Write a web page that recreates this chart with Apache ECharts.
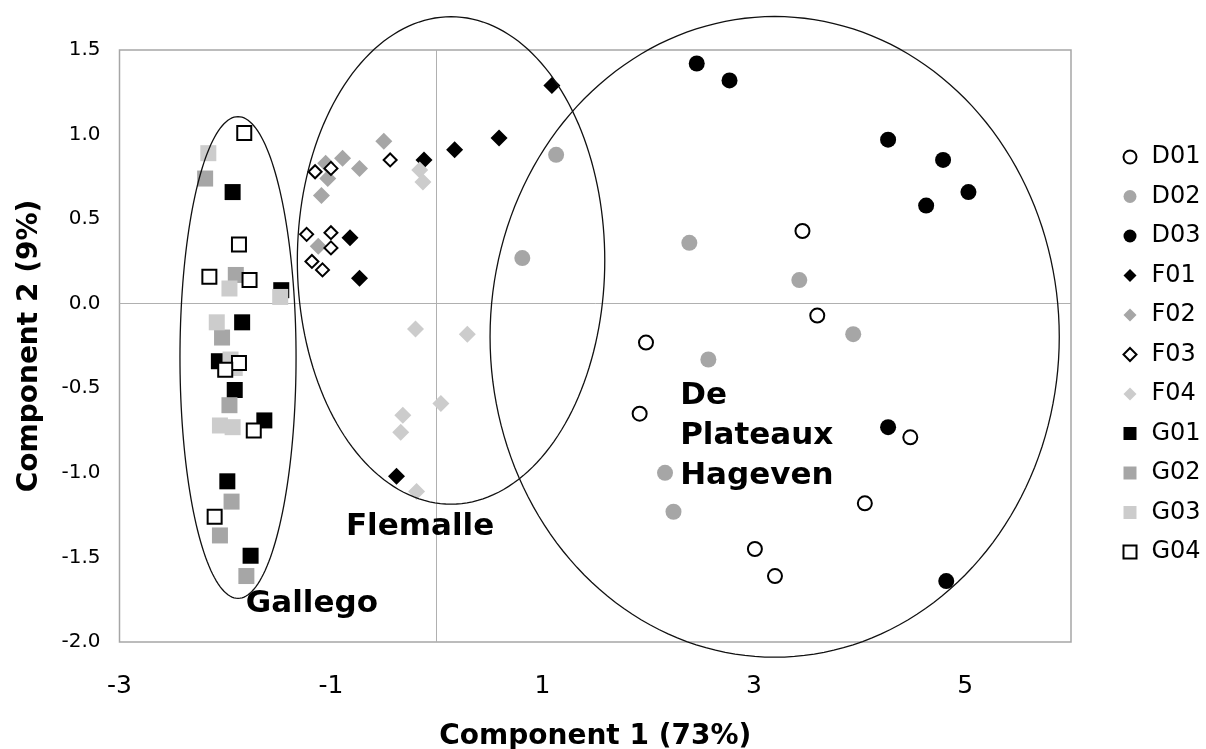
<!DOCTYPE html>
<html>
<head>
<meta charset="utf-8">
<script src="https://cdn.jsdelivr.net/npm/echarts@6/dist/echarts.min.js"></script>
<style>
  html, body { margin: 0; padding: 0; background: #fff; }
  #chart { width: 1206px; height: 749px; }
</style>
</head>
<body>
<div id="chart"></div>
<script>
// point groups, [component 1, component 2]
const D01 = [[3.46,0.43],[3.60,-0.07],[1.98,-0.23],[1.92,-0.65],[4.48,-0.79],[4.05,-1.18],[3.01,-1.45],[3.20,-1.61]];
const D02 = [[1.13,0.88],[0.81,0.27],[2.39,0.36],[3.43,0.14],[3.94,-0.18],[2.57,-0.33],[2.16,-1.00],[2.24,-1.23]];
const D03 = [[2.46,1.42],[2.77,1.32],[4.27,0.97],[4.79,0.85],[4.63,0.58],[5.03,0.66],[4.27,-0.73],[4.82,-1.64]];
const F01 = [[1.09,1.29],[0.59,0.98],[0.17,0.91],[-0.12,0.85],[-0.82,0.39],[-0.73,0.15],[-0.38,-1.02]];
const F02 = [[-0.50,0.96],[-1.05,0.83],[-0.89,0.86],[-0.73,0.80],[-1.03,0.74],[-1.09,0.64],[-1.12,0.34]];
const F03 = [[-0.44,0.85],[-1.15,0.78],[-1.00,0.80],[-1.23,0.41],[-1.00,0.42],[-1.00,0.33],[-1.18,0.25],[-1.08,0.20]];
const F04 = [[-0.16,0.79],[-0.13,0.72],[-0.20,-0.15],[0.29,-0.18],[0.04,-0.59],[-0.32,-0.66],[-0.34,-0.76],[-0.19,-1.11]];
const G01 = [[-1.93,0.66],[-1.47,0.08],[-1.84,-0.11],[-2.06,-0.34],[-1.91,-0.51],[-1.63,-0.69],[-1.98,-1.05],[-1.76,-1.49]];
const G02 = [[-2.19,0.74],[-1.90,0.17],[-2.03,-0.20],[-1.96,-0.60],[-1.94,-1.17],[-2.05,-1.37],[-1.80,-1.61]];
const G03 = [[-2.16,0.89],[-1.96,0.09],[-1.48,0.04],[-2.08,-0.11],[-1.95,-0.33],[-1.91,-0.38],[-2.05,-0.72],[-1.93,-0.73]];
const G04 = [[-1.82,1.01],[-1.87,0.35],[-2.15,0.16],[-1.77,0.14],[-1.87,-0.35],[-2.00,-0.39],[-1.73,-0.75],[-2.10,-1.26]];

const seriesNames = ['D01','D02','D03','F01','F02','F03','F04','G01','G02','G03','G04'];
const seriesData = [D01, D02, D03, F01, F02, F03, F04, G01, G02, G03, G04];

// group ellipses: [centre x, centre y, radius x, radius y]
const ellipses = [[-1.879,-0.318,0.549,1.424],[0.136,0.256,1.454,1.441],[3.197,-0.196,2.692,1.894]];
// group labels: [x, y, text]
const groupLabels = [[-1.18,-1.776,'Gallego'],[-0.157,-1.319,'Flemalle'],[2.303,-0.783,'De\nPlateaux\nHageven']];

const xTicks = { min: -3, max: 6, interval: 2 };
const yTicks = { min: -2, max: 1.5, interval: 0.5 };

const BLACK = '#000000', GREY = '#a6a6a6', LIGHT = '#cccccc';
// symbol, fill, open?
const styles = {
  D01: ['circle', '#fff', true],
  D02: ['circle', GREY, false],
  D03: ['circle', BLACK, false],
  F01: ['diamond', BLACK, false],
  F02: ['diamond', GREY, false],
  F03: ['diamond', '#fff', true],
  F04: ['diamond', LIGHT, false],
  G01: ['rect', BLACK, false],
  G02: ['rect', GREY, false],
  G03: ['rect', LIGHT, false],
  G04: ['rect', '#fff', true]
};

const font = 'DejaVu Sans, Verdana, sans-serif';
const chart = echarts.init(document.getElementById('chart'));

const series = seriesNames.map(function (name, i) {
  const s = styles[name];
  let size = s[0] === 'diamond' ? 17 : 16;
  if (s[2]) size = s[0] === 'diamond' ? 13 : 14;
  return {
    name: name,
    type: 'scatter',
    data: seriesData[i],
    symbol: s[0],
    symbolSize: size,
    z: 3,
    itemStyle: {
      color: s[1],
      opacity: 1,
      borderColor: s[2] ? BLACK : s[1],
      borderWidth: s[2] ? 2 : 0
    },
    emphasis: { disabled: true }
  };
});

// zero lines
series[0].markLine = {
  silent: true,
  symbol: 'none',
  z: 1,
  label: { show: false },
  lineStyle: { color: '#b0b0b0', width: 1, type: 'solid' },
  data: [{ xAxis: 0 }, { yAxis: 0 }]
};

series.push({
  type: 'custom',
  name: 'ellipses',
  data: ellipses,
  encode: { x: 0, y: 1 },
  clip: false,
  z: 5,
  silent: true,
  renderItem: function (params, api) {
    const c = api.coord([api.value(0), api.value(1)]);
    const rx = api.size([api.value(2), 0])[0];
    const ry = api.size([0, api.value(3)])[1];
    const pts = [];
    for (let k = 0; k < 180; k++) {
      const a = k / 180 * Math.PI * 2;
      pts.push([c[0] + rx * Math.cos(a), c[1] + ry * Math.sin(a)]);
    }
    return {
      type: 'polygon',
      shape: { points: pts },
      style: { fill: 'none', stroke: '#111', lineWidth: 1.3 }
    };
  }
});

series.push({
  type: 'scatter',
  name: 'labels',
  data: groupLabels.map(function (d) {
    return {
      value: d,
      label: { align: d[2].indexOf('\n') >= 0 ? 'left' : 'center' }
    };
  }),
  symbolSize: 0,
  z: 6,
  silent: true,
  itemStyle: { opacity: 1 },
  label: {
    show: true,
    position: 'inside',
    formatter: function (p) { return p.value[2]; },
    fontFamily: font,
    fontWeight: 'bold',
    fontSize: 31,
    lineHeight: 40,
    color: '#000',
    verticalAlign: 'middle'
  }
});

const option = {
  animation: false,
  backgroundColor: '#fff',
  grid: {
    left: 119.5, top: 50, right: 135, bottom: 107,
    outerBoundsMode: 'none',
    containLabel: false,
    show: true, borderColor: '#a6a6a6', borderWidth: 1.5
  },
  legend: {
    data: seriesNames,
    orient: 'vertical',
    left: 1117.5,
    top: 139,
    itemWidth: 13,
    itemHeight: 13,
    itemGap: 13.5,
    selectedMode: false,
    textStyle: { fontFamily: font, fontSize: 24, lineHeight: 26, color: '#000', padding: [0, 0, 0, 10] }
  },
  xAxis: {
    type: 'value',
    min: xTicks.min, max: xTicks.max, interval: xTicks.interval,
    name: 'Component 1 (73%)',
    nameLocation: 'middle',
    nameGap: 81,
    nameTextStyle: { fontFamily: font, fontSize: 28, fontWeight: 'bold', color: '#000' },
    axisLine: { show: false },
    axisTick: { show: false },
    splitLine: { show: false },
    axisLabel: { showMaxLabel: false, margin: 32, fontFamily: font, fontSize: 25, color: '#000' }
  },
  yAxis: {
    type: 'value',
    min: yTicks.min, max: yTicks.max, interval: yTicks.interval,
    name: 'Component 2 (9%)',
    nameLocation: 'middle',
    nameGap: 76,
    nameTextStyle: { fontFamily: font, fontSize: 28, fontWeight: 'bold', color: '#000' },
    axisLine: { show: false },
    axisTick: { show: false },
    splitLine: { show: false },
    axisLabel: {
      margin: 19,
      fontFamily: font, fontSize: 20, color: '#000',
      formatter: function (v) { return v.toFixed(1); }
    }
  },
  series: series
};

chart.setOption(option);
</script>
</body>
</html>
